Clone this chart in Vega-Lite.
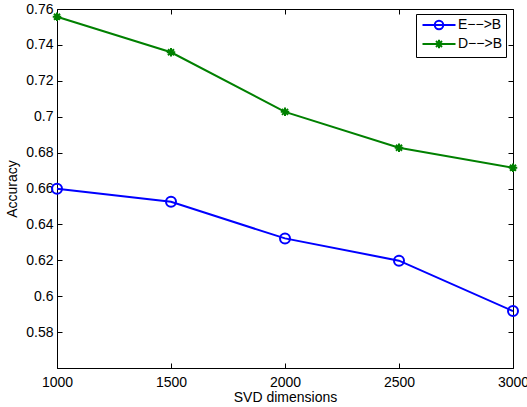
{
  "$schema": "https://vega.github.io/schema/vega-lite/v6.json",
  "width": 456,
  "height": 359,
  "autosize": {"type": "none"},
  "padding": {"left": 57, "top": 9, "right": 14, "bottom": 39},
  "background": "white",
  "config": {
    "view": {"stroke": "black", "strokeWidth": 1},
    "font": "Liberation Sans",
    "axis": {
      "grid": false,
      "domainColor": "black",
      "tickColor": "black",
      "labelColor": "black",
      "titleColor": "black",
      "labelFont": "Liberation Sans",
      "titleFont": "Liberation Sans",
      "labelFontSize": 14,
      "titleFontSize": 14,
      "titleFontWeight": "normal"
    }
  },
  "data": {
    "values": [
      {"dim": 1000, "acc": 0.6598, "series": "E−−>B"},
      {"dim": 1500, "acc": 0.6526, "series": "E−−>B"},
      {"dim": 2000, "acc": 0.6322, "series": "E−−>B"},
      {"dim": 2500, "acc": 0.6198, "series": "E−−>B"},
      {"dim": 3000, "acc": 0.5917, "series": "E−−>B"},
      {"dim": 1000, "acc": 0.7557, "series": "D−−>B"},
      {"dim": 1500, "acc": 0.7359, "series": "D−−>B"},
      {"dim": 2000, "acc": 0.7027, "series": "D−−>B"},
      {"dim": 2500, "acc": 0.6827, "series": "D−−>B"},
      {"dim": 3000, "acc": 0.6716, "series": "D−−>B"}
    ]
  },
  "encoding": {
    "color": {
      "field": "series",
      "type": "nominal",
      "scale": {"domain": ["E−−>B", "D−−>B"], "range": ["#0000ff", "#008000"]},
      "legend": {
        "title": null,
        "orient": "none",
        "legendX": 359,
        "legendY": 5,
        "strokeColor": "black",
        "fillColor": "white",
        "padding": 4,
        "symbolSize": 100,
        "symbolOffset": 12,
        "labelOffset": 12,
        "rowPadding": 1,
        "labelFont": "Liberation Sans",
        "labelFontSize": 14,
        "labelColor": "black",
        "encode": {
          "symbols": {
            "update": {
              "shape": {"signal": "datum.value === 'E−−>B' ? 'M-3.3,0L3.3,0M0.85,0C0.85,0.47 0.47,0.85 0,0.85C-0.47,0.85 -0.85,0.47 -0.85,0C-0.85,-0.47 -0.47,-0.85 0,-0.85C0.47,-0.85 0.85,-0.47 0.85,0Z' : 'M-3.3,0L3.3,0M0,-0.85L0,0.85M-0.6,-0.6L0.6,0.6M-0.6,0.6L0.6,-0.6'"},
              "fill": {"value": "transparent"},
              "strokeWidth": {"value": 2}
            }
          }
        }
      }
    }
  },
  "layer": [
    {
      "mark": {"type": "line", "strokeWidth": 2},
      "encoding": {
        "x": {
          "field": "dim",
          "type": "quantitative",
          "scale": {"domain": [1000, 3000], "nice": false, "zero": false},
          "axis": {
            "orient": "bottom",
            "values": [1000, 1500, 2000, 2500, 3000],
            "format": "d",
            "title": "SVD dimensions",
            "tickSize": -5,
            "labelPadding": 12,
            "titlePadding": 1,
            "labelFlush": false,
            "labelOverlap": false
          }
        },
        "y": {
          "field": "acc",
          "type": "quantitative",
          "scale": {"domain": [0.56, 0.76], "nice": false, "zero": false},
          "axis": {
            "orient": "left",
            "values": [0.58, 0.6, 0.62, 0.64, 0.66, 0.68, 0.7, 0.72, 0.74, 0.76],
            "format": ".2~f",
            "title": "Accuracy",
            "tickSize": -5,
            "labelPadding": 9,
            "titlePadding": 6,
            "labelFlush": false,
            "labelOverlap": false
          }
        }
      }
    },
    {
      "transform": [{"filter": "datum.series === 'E−−>B'"}],
      "mark": {"type": "point", "shape": "circle", "filled": false, "strokeWidth": 2, "opacity": 1, "size": 100},
      "encoding": {
        "x": {
          "field": "dim",
          "type": "quantitative",
          "axis": {"orient": "top", "values": [1000, 1500, 2000, 2500, 3000], "labels": false, "title": null, "tickSize": -5, "domain": false}
        },
        "y": {
          "field": "acc",
          "type": "quantitative",
          "axis": {"orient": "right", "values": [0.58, 0.6, 0.62, 0.64, 0.66, 0.68, 0.7, 0.72, 0.74, 0.76], "labels": false, "title": null, "tickSize": -5, "domain": false}
        }
      }
    },
    {
      "transform": [{"filter": "datum.series === 'D−−>B'"}],
      "mark": {"type": "point", "shape": "M0,-0.85L0,0.85M-0.85,0L0.85,0M-0.6,-0.6L0.6,0.6M-0.6,0.6L0.6,-0.6", "filled": false, "strokeWidth": 2, "opacity": 1, "size": 100},
      "encoding": {
        "x": {"field": "dim", "type": "quantitative", "axis": null},
        "y": {"field": "acc", "type": "quantitative", "axis": null}
      }
    }
  ],
  "resolve": {"axis": {"x": "independent", "y": "independent"}}
}
